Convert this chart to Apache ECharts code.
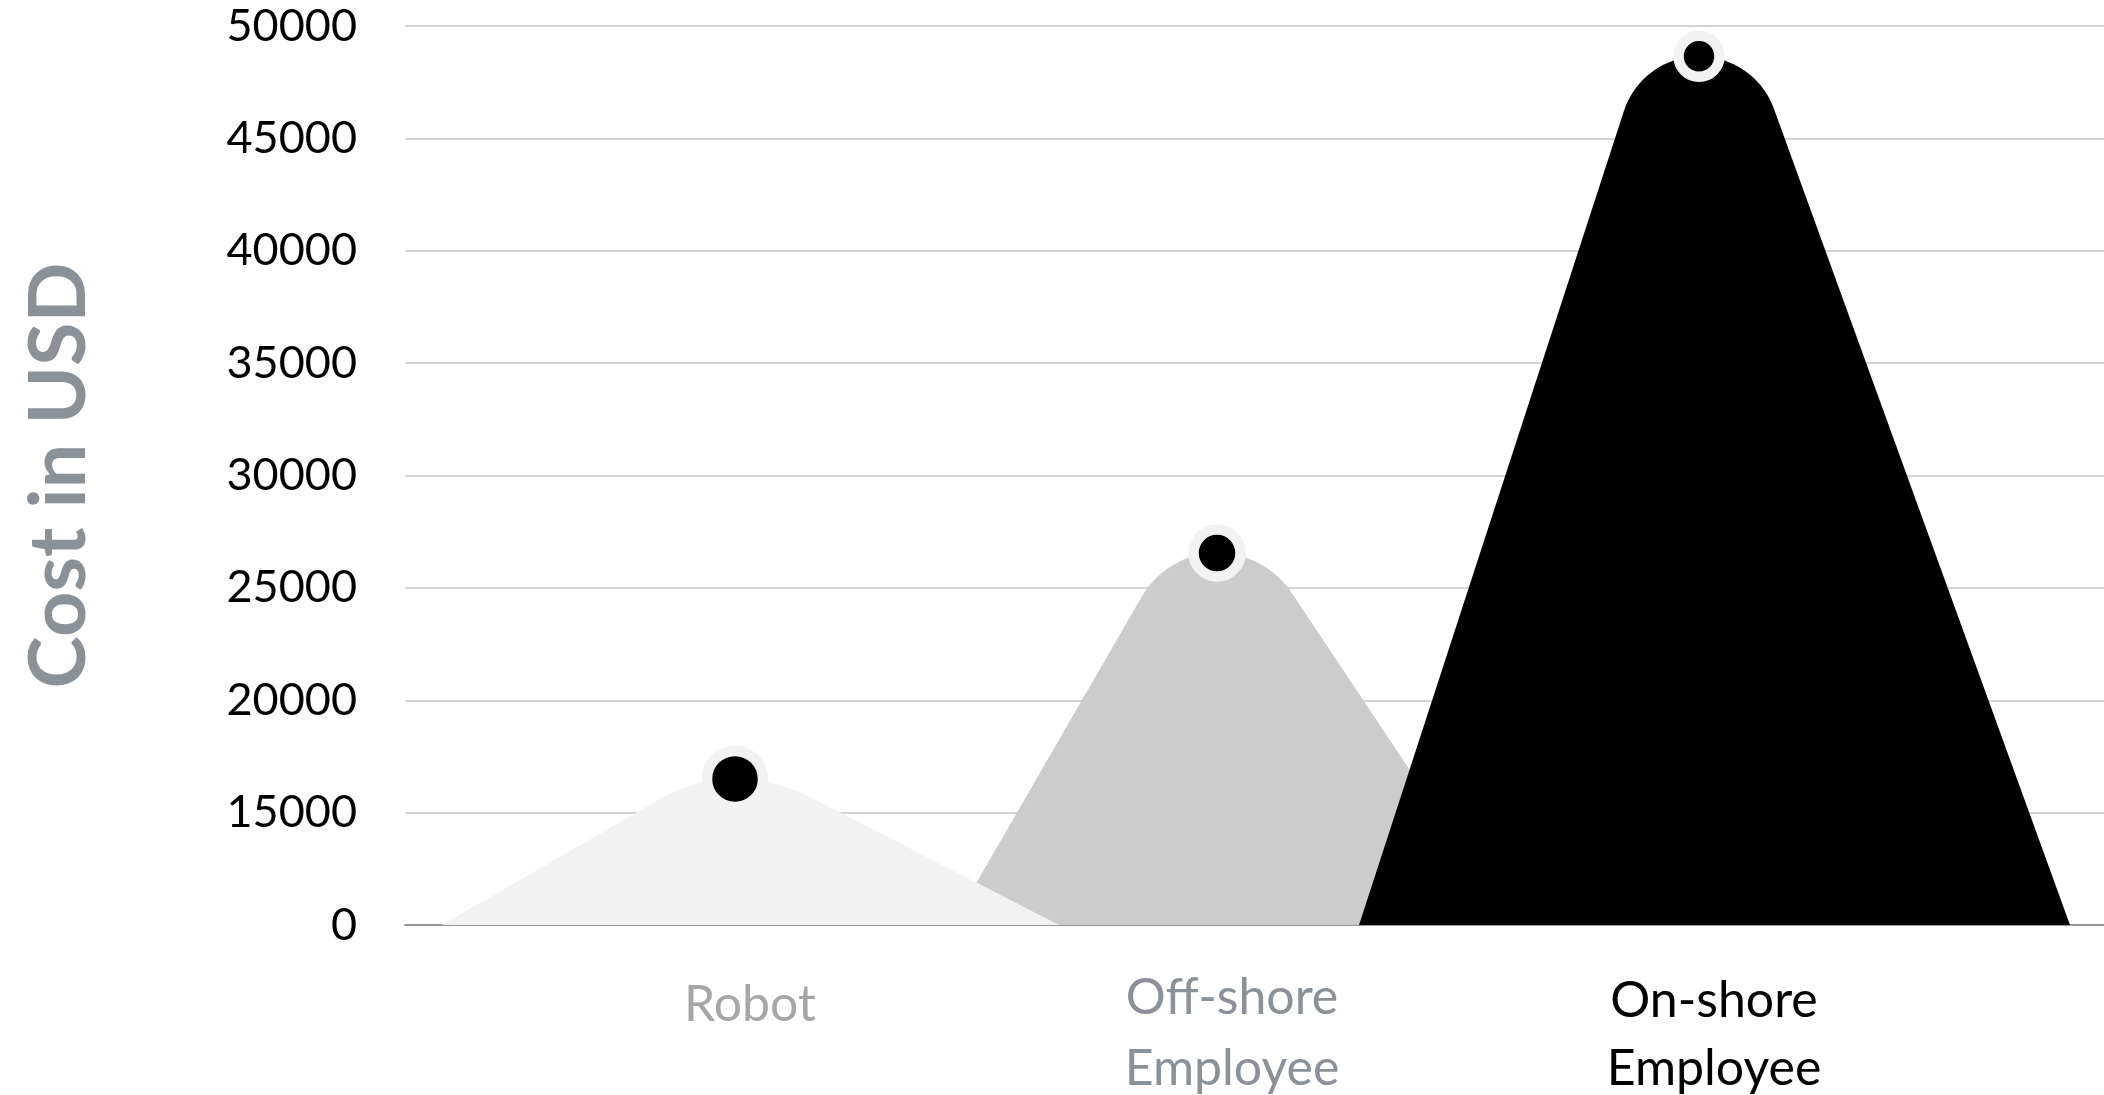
<!DOCTYPE html>
<html><head><meta charset="utf-8">
<script src="https://cdn.jsdelivr.net/npm/echarts@6/dist/echarts.min.js"></script>
<style>html,body{margin:0;padding:0;background:#fff}#main{width:2104px;height:1095px}</style>
</head><body><div id="main"></div>
<script>
// ---- data ----
const categories = ['Robot', 'Off-shore\nEmployee', 'On-shore\nEmployee'];
const costs = [16500, 26550, 48650];
const yTickLabels = ['0', '15000', '20000', '25000', '30000', '35000', '40000', '45000', '50000'];
const yMin = 10000, yMax = 50000, yStep = 5000;

// ---- styles ----
const fillColors = ['#f2f2f2', '#cccccc', '#000000'];
const labelColors = ['#a6a6a6', '#8a9199', '#000000'];
const labelPadTop = [14, 0, 7];
const halfWidths = [[308, 309], [280, 281], [355, 356]];
const layerOrder = [2, 1, 3];
const dotSizes = [56, 47, 41];
const PEAK_SHIFT = -15, CAP = 75;

function mountain(params, api) {
  const i = api.value(0);
  const top = api.coord([i, api.value(1)]);
  const base = api.coord([i, yMin]);
  const cx = top[0], yt = top[1], yb = base[1];
  const xp = cx + PEAK_SHIFT;
  const xl = cx - halfWidths[i][0], xr = cx + halfWidths[i][1];
  function side(xBase, dir) {
    const span = Math.abs(xp - xBase);
    const h = yb - yt;
    let d = 0, theta = 0;
    for (let k = 0; k < 30; k++) {
      const m = (h - d) / (span - CAP);
      theta = Math.atan(m);
      d = CAP * Math.tan(theta / 2);
    }
    const r = CAP / Math.sin(theta);
    const pts = [];
    const n = 30;
    for (let k = 0; k <= n; k++) {
      const a = theta * (1 - k / n);
      pts.push([xp + dir * r * Math.sin(a), yt + r - r * Math.cos(a)]);
    }
    return pts;
  }
  const left = side(xl, -1);
  const right = side(xr, 1).reverse();
  const points = [[xl, yb]].concat(left, right.slice(1), [[xr, yb]]);
  return {
    type: 'polygon',
    shape: { points: points },
    style: { fill: fillColors[i] },
    z2: layerOrder[i]
  };
}

const rich = {};
labelColors.forEach(function (c, i) {
  rich['c' + i] = { color: c, fontFamily: 'Lato', fontSize: 50, lineHeight: 71, padding: [labelPadTop[i], 0, 0, 0] };
  rich['d' + i] = { color: c, fontFamily: 'Lato', fontSize: 50, lineHeight: 71 };
});

const chart = echarts.init(document.getElementById('main'), null, { renderer: 'canvas' });
chart.setOption({
  animation: false,
  backgroundColor: '#ffffff',
  grid: [
    { left: 405, right: 0, top: 26, bottom: 170, containLabel: false, outerBoundsMode: 'none' },
    { left: 509, right: 149, top: 26, bottom: 170, containLabel: false, outerBoundsMode: 'none' }
  ],
  xAxis: [
    {
      gridIndex: 0, type: 'category', data: [''],
      axisLine: { show: true, lineStyle: { color: '#999999', width: 2 } },
      axisTick: { show: false }, axisLabel: { show: false }, splitLine: { show: false }
    },
    {
      gridIndex: 1, type: 'category', data: categories, boundaryGap: true,
      axisLine: { show: false }, axisTick: { show: false }, splitLine: { show: false },
      axisLabel: {
        fontFamily: 'Lato', fontSize: 50, lineHeight: 71, margin: 37,
        formatter: function (v, idx) {
          return v.split('\n').map(function (line, k) {
            return '{' + (k === 0 ? 'c' : 'd') + idx + '|' + line + '}';
          }).join('\n');
        },
        rich: rich
      }
    }
  ],
  yAxis: [
    {
      gridIndex: 0, type: 'value', min: yMin, max: yMax, interval: yStep,
      axisLine: { show: false }, axisTick: { show: false },
      axisLabel: {
        fontFamily: 'Lato', fontSize: 45, color: '#000000', margin: 48,
        formatter: function (v) { return yTickLabels[Math.round((v - yMin) / yStep)]; }
      },
      splitLine: { lineStyle: { color: '#d4d4d4', width: 2 } },
      name: 'Cost in USD', nameLocation: 'middle', nameGap: 306,
      nameTextStyle: { fontFamily: 'Lato', fontSize: 79, fontWeight: 'bold', color: '#8a9199' }
    },
    {
      gridIndex: 1, type: 'value', min: yMin, max: yMax, interval: yStep, show: false,
      splitLine: { show: false }
    }
  ],
  series: [
    {
      type: 'custom', xAxisIndex: 1, yAxisIndex: 1, z: 2,
      renderItem: mountain,
      encode: { x: 0, y: 1 },
      data: costs.map(function (v, i) { return [i, v]; })
    },
    {
      type: 'scatter', xAxisIndex: 1, yAxisIndex: 1, z: 5,
      data: costs,
      symbol: 'circle',
      symbolOffset: [PEAK_SHIFT, 0],
      symbolSize: function (v, p) { return dotSizes[p.dataIndex]; },
      itemStyle: { color: '#000000', borderColor: '#f2f2f2', borderWidth: 10.5, opacity: 1 }
    }
  ]
});
</script>
</body></html>
